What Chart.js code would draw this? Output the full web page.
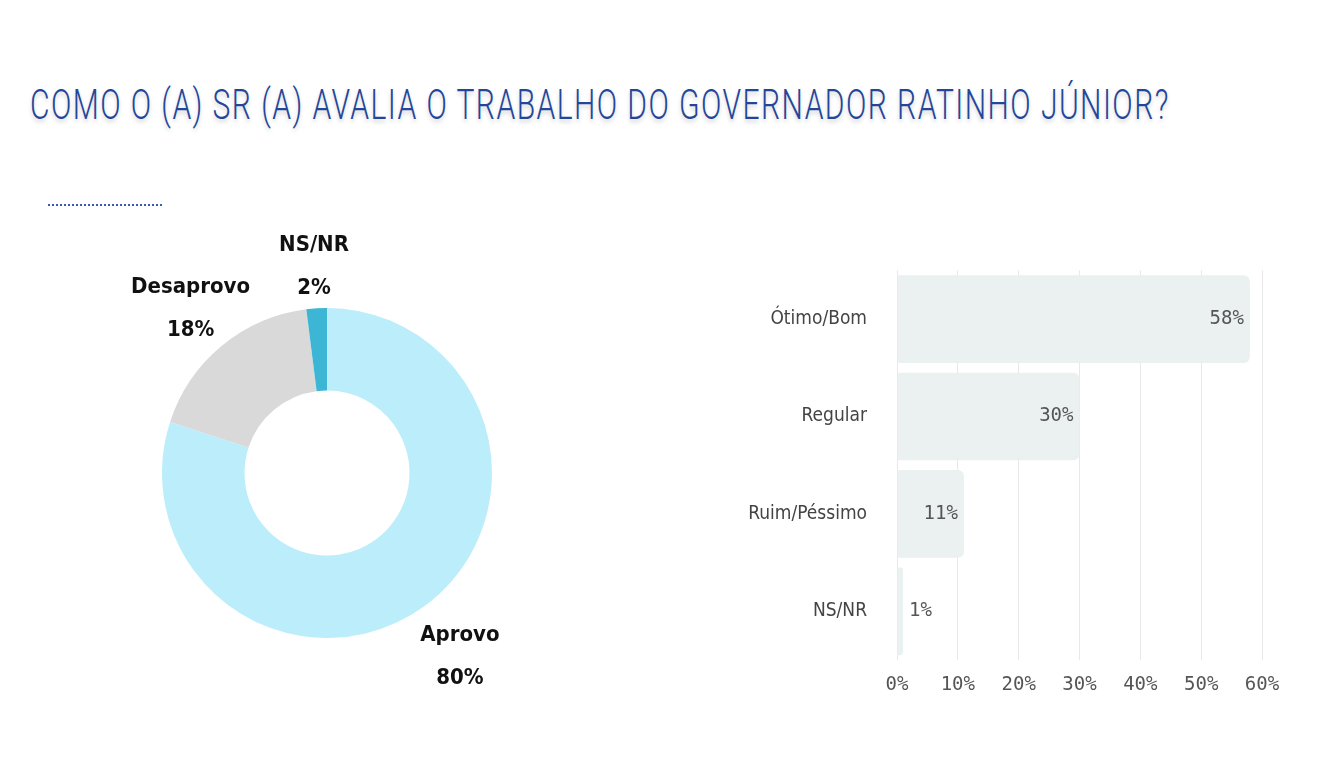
<!DOCTYPE html>
<html>
<head>
<meta charset="utf-8">
<script src="https://cdn.jsdelivr.net/npm/chart.js@4.4.0/dist/chart.umd.min.js"></script>
<style>
  body { margin: 0; background: #fff; width: 1320px; height: 768px; overflow: hidden; position: relative; }
  #title {
    position: absolute; left: 30px; top: 80px; margin: 0;
    font-family: Roboto, sans-serif; font-weight: 300; font-size: 42px;
    color: #24469a; white-space: nowrap; letter-spacing: 2px;
    text-shadow: 0 3px 5px rgba(0, 0, 0, 0.18);
    transform-origin: left top;
  }
  #dots { position: absolute; left: 48px; top: 204px; width: 114px; border-top: 2px dotted #3b5bb0; }
  #pieBox { position: absolute; left: 77px; top: 223px; width: 500px; height: 500px; }
  #barBox { position: absolute; left: 700px; top: 237px; width: 600px; height: 473px; }
</style>
</head>
<body>
<h1 id="title">COMO O (A) SR (A) AVALIA O TRABALHO DO GOVERNADOR RATINHO JÚNIOR?</h1>
<div id="dots"></div>
<div id="pieBox"><canvas id="pieChart"></canvas></div>
<div id="barBox"><canvas id="barChart"></canvas></div>
<script>
// dados do gráfico de rosca
const pieLabels = ['Aprovo', 'Desaprovo', 'NS/NR'];
const pieValues = [80, 18, 2];
const pieColors = ['#bcedfb', '#d9d9d9', '#3db5d4'];

// dados do gráfico de barras
const barLabels = ['Ótimo/Bom', 'Regular', 'Ruim/Péssimo', 'NS/NR'];
const barValues = [58, 30, 11, 1];
const xTicks = [0, 10, 20, 30, 40, 50, 60];

document.addEventListener('DOMContentLoaded', function() {
  // ajusta a largura do título
  const title = document.getElementById('title');
  title.style.transform = 'scaleX(' + (1140 / title.offsetWidth) + ')';

  // rótulos externos da rosca
  const pieLabelPlugin = {
    id: 'pieLabels',
    afterDatasetsDraw(chart) {
      const ctx = chart.ctx;
      const meta = chart.getDatasetMeta(0);
      const dists = [61, 49, 42];
      meta.data.forEach((arc, i) => {
        const mid = (arc.startAngle + arc.endAngle) / 2;
        const r = arc.outerRadius + dists[i];
        const x = arc.x + Math.cos(mid) * r;
        const y = arc.y + Math.sin(mid) * r;
        ctx.save();
        ctx.fillStyle = '#111';
        ctx.font = 'bold 22px "DejaVu Sans Condensed", "DejaVu Sans", sans-serif';
        ctx.textAlign = 'center';
        ctx.textBaseline = 'middle';
        ctx.fillText(pieLabels[i], x, y - 21);
        ctx.fillText(pieValues[i] + '%', x, y + 22);
        ctx.restore();
      });
    }
  };

  new Chart(document.getElementById('pieChart'), {
    type: 'doughnut',
    data: {
      labels: pieLabels,
      datasets: [{
        data: pieValues,
        backgroundColor: pieColors,
        borderWidth: 0
      }]
    },
    options: {
      responsive: true,
      maintainAspectRatio: false,
      animation: false,
      cutout: '50%',
      layout: { padding: 85 },
      plugins: {
        legend: { display: false },
        tooltip: { enabled: false }
      }
    },
    plugins: [pieLabelPlugin]
  });

  // rótulos de valor nas barras
  const barValuePlugin = {
    id: 'barValues',
    afterDatasetsDraw(chart) {
      const ctx = chart.ctx;
      const meta = chart.getDatasetMeta(0);
      meta.data.forEach((bar, i) => {
        const v = barValues[i];
        ctx.save();
        ctx.fillStyle = '#555';
        ctx.font = '19px "DejaVu Sans Mono", monospace';
        ctx.textBaseline = 'middle';
        if (v < 5) {
          ctx.textAlign = 'left';
          ctx.fillText(v + '%', bar.x + 6, bar.y);
        } else {
          ctx.textAlign = 'right';
          ctx.fillText(v + '%', bar.x - 6, bar.y);
        }
        ctx.restore();
      });
    }
  };

  new Chart(document.getElementById('barChart'), {
    type: 'bar',
    data: {
      labels: barLabels,
      datasets: [{
        data: barValues,
        backgroundColor: '#ebf0f0',
        borderRadius: 6,
        borderSkipped: 'start',
        barPercentage: 0.9,
        categoryPercentage: 1
      }]
    },
    options: {
      indexAxis: 'y',
      responsive: true,
      maintainAspectRatio: false,
      animation: false,
      layout: { padding: { top: 10, right: 38 } },
      plugins: {
        legend: { display: false },
        tooltip: { enabled: false }
      },
      scales: {
        x: {
          min: xTicks[0],
          max: xTicks[xTicks.length - 1],
          afterBuildTicks: scale => { scale.ticks = xTicks.map(v => ({ value: v })); },
          afterFit: scale => { scale.height = 50; },
          grid: { color: '#e8e8e8', drawTicks: false },
          border: { display: false },
          ticks: {
            padding: 14,
            color: '#555',
            font: { family: '"DejaVu Sans Mono", monospace', size: 19 },
            callback: v => v + '%'
          }
        },
        y: {
          afterFit: scale => { scale.width = 197; },
          grid: { display: false },
          border: { display: false },
          ticks: {
            padding: 22,
            color: '#444',
            font: { family: '"DejaVu Sans Condensed", "DejaVu Sans", sans-serif', size: 19 }
          }
        }
      }
    },
    plugins: [barValuePlugin]
  });
});
</script>
</body>
</html>
